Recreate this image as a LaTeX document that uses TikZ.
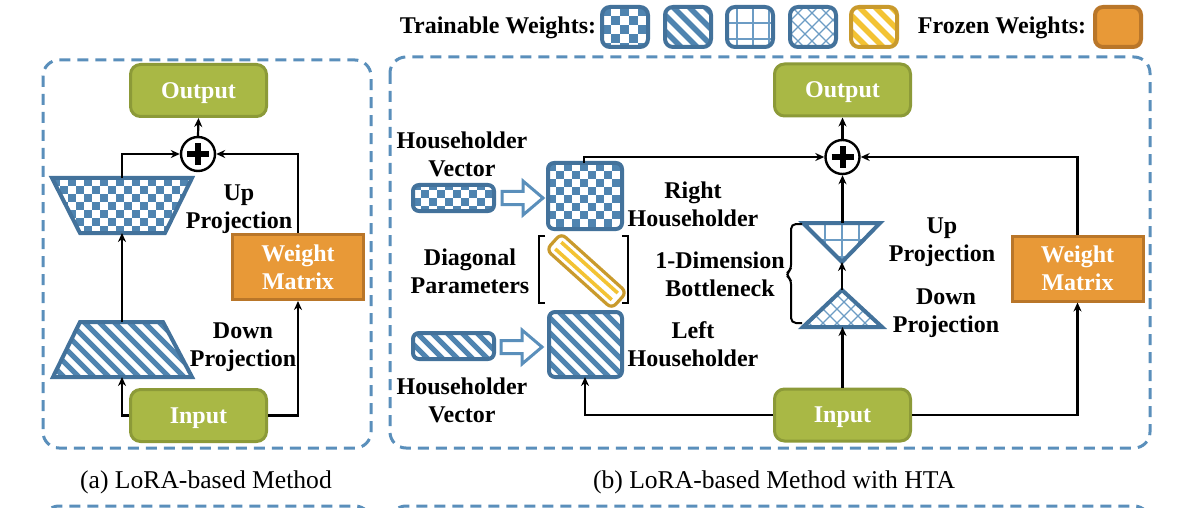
\documentclass[tikz,border=0pt]{standalone}
\usepackage{fontspec}
\setmainfont{Liberation Serif}
\usetikzlibrary{arrows.meta,calc}
\definecolor{pblue}{HTML}{4F84B0}
\definecolor{lblue}{HTML}{6C9CC4}
\definecolor{bblue}{HTML}{43729B}
\definecolor{dashblue}{HTML}{5A8FBB}
\definecolor{gfill}{HTML}{A9B845}
\definecolor{gdraw}{HTML}{8C9A38}
\definecolor{ofill}{HTML}{E89937}
\definecolor{odraw}{HTML}{B97629}
\definecolor{yfill}{HTML}{F3C333}
\definecolor{ydraw}{HTML}{C99A2C}
% checkerboard: xmin ymin xmax ymax cell
\newcommand\chk[5]{%
  \pgfmathtruncatemacro\chnx{ceil((#3-#1)/#5)}%
  \pgfmathtruncatemacro\chny{ceil((#4-#2)/#5)}%
  \foreach \ci in {0,...,\chnx}{\foreach \cj in {0,...,\chny}{%
    \pgfmathtruncatemacro\chp{mod(\ci+\cj,2)}%
    \ifnum\chp=0 \fill[pblue] ({#1+#5*\ci},{#2+#5*\cj}) rectangle ++(#5,#5);\fi}}}
% stripes: xmin ymin xmax ymax color period
\newcommand\strp[6]{%
  \pgfmathtruncatemacro\stn{ceil((#3-#1+#4-#2)/#6)+1}%
  \pgfmathsetmacro\stw{#6*0.17}%
  \foreach \sk in {0,...,\stn}{\draw[#5, line width=\stw pt] ({#1-(#4-#2)+#6*\sk},#2) -- ++({#4-#2},{#4-#2});}}
% grid: xmin ymin xmax ymax spacing
\newcommand\grd[5]{%
  \pgfmathtruncatemacro\gnx{ceil((#3-#1)/#5)}%
  \pgfmathtruncatemacro\gny{ceil((#4-#2)/#5)}%
  \foreach \gk in {1,...,\gnx}{\draw[lblue, line width=0.8pt] ({#1+#5*\gk},#2) -- ({#1+#5*\gk},#4);}%
  \foreach \gk in {1,...,\gny}{\draw[lblue, line width=0.8pt] (#1,{#2+#5*\gk}) -- (#3,{#2+#5*\gk});}}
% cross hatch: xmin ymin xmax ymax spacing
\newcommand\xht[5]{%
  \pgfmathtruncatemacro\xn{ceil((#3-#1+#4-#2)/#5)+1}%
  \foreach \xk in {0,...,\xn}{%
    \draw[lblue, line width=0.6pt] ({#1-(#4-#2)+#5*\xk},#2) -- ++({#4-#2},{#4-#2});
    \draw[lblue, line width=0.6pt] ({#1+#5*\xk},#2) -- ++({-(#4-#2)},{#4-#2});}}
% hollow arrow: x0 yc
\newcommand\harrow[2]{%
  \draw[draw=dashblue, line width=1.5pt, fill=white, line join=miter]
    (#1,#2-6.5) -- (#1+21,#2-6.5) -- (#1+21,#2-17) -- (#1+41,#2) -- (#1+21,#2+17)
    -- (#1+21,#2+6.5) -- (#1,#2+6.5) -- cycle;}
\tikzset{
  dbox/.style={draw=dashblue, line width=1.5pt, dash pattern=on 5.5pt off 3.5pt, rounded corners=8pt},
  gbox/.style={draw=gdraw, fill=gfill, line width=1.5pt, rounded corners=5pt, text=white,
    font=\bfseries\fontsize{12}{14}\selectfont, minimum width=68pt, minimum height=26pt, inner sep=0pt,
    text depth=0pt},
  obox/.style={draw=odraw, fill=ofill, line width=1.5pt, text=white, align=center,
    font=\bfseries\fontsize{12}{14}\selectfont, minimum width=65.5pt, minimum height=32.5pt, inner sep=0pt},
  lbl/.style={font=\bfseries\fontsize{12}{14}\selectfont, align=center, inner sep=0pt},
  captxt/.style={font=\fontsize{12.8}{14}\selectfont, inner sep=0pt},
  plus/.style={circle, draw=black, line width=1.2pt, minimum size=17pt, inner sep=0pt, fill=white},
  arr/.style={-{Stealth[length=4.5pt,width=4pt]}, line width=1.1pt, black},
  pborder/.style={draw=bblue, line width=2pt},
}
\begin{document}
\begin{tikzpicture}[x=0.5pt,y=-0.5pt]
\useasboundingbox (0,0) rectangle (1200,508);
\clip (0,0) rectangle (1200,508);

% ---------- dashed frames ----------
\draw[dbox] (43,60) rectangle (371,448);
\draw[dbox] (390,57) rectangle (1150,448);
\draw[dbox] (43,506) rectangle (371,620);
\draw[dbox] (390,506) rectangle (1150,620);

% ---------- legend ----------
\node[lbl] (trainlbl) at (498,28) {Trainable Weights:};
\node[lbl] (frozenlbl) at (1002,28) {Frozen Weights:};
\begin{scope}
  \clip[rounded corners=4pt] (602,7) rectangle (648,47);
  \chk{602}{7}{648}{47}{9}
\end{scope}
\draw[pborder, rounded corners=4pt] (602,7) rectangle (648,47);
\begin{scope}
  \clip[rounded corners=4pt] (665,7) rectangle (711,47);
  \strp{665}{7}{711}{47}{pblue}{16}
\end{scope}
\draw[pborder, rounded corners=4pt] (665,7) rectangle (711,47);
\begin{scope}
  \clip[rounded corners=4pt] (727,7) rectangle (773,47);
  \grd{721}{7}{773}{47}{16}
\end{scope}
\draw[pborder, rounded corners=4pt] (727,7) rectangle (773,47);
\begin{scope}
  \clip[rounded corners=4pt] (790,7) rectangle (836,47);
  \xht{790}{7}{836}{47}{14}
\end{scope}
\draw[pborder, rounded corners=4pt] (790,7) rectangle (836,47);
\begin{scope}
  \clip[rounded corners=4pt] (851,7) rectangle (897,47);
  \strp{851}{7}{897}{47}{yfill}{16}
\end{scope}
\draw[draw=ydraw, line width=2pt, rounded corners=4pt] (851,7) rectangle (897,47);
\draw[draw=odraw, fill=ofill, line width=2pt, rounded corners=4pt] (1095,7) rectangle (1141,47);

% ================= LEFT PANEL =================
\node[gbox] (outL) at (198.5,90.5) {Output};
\node[gbox] (inL) at (198.5,415.5) {Input};
\node[plus] (plL) at (198,154) {};
\draw[line width=3pt] ([xshift=-5.5pt]plL.center) -- ([xshift=5.5pt]plL.center);
\draw[line width=3pt] ([yshift=-5.5pt]plL.center) -- ([yshift=5.5pt]plL.center);
\node[obox] (wL) at (298,267) {Weight\\Matrix};

% up projection (checker trapezoid)
\begin{scope}
  \clip (52,178) -- (192,178) -- (165,233) -- (80,233) -- cycle;
  \chk{52}{178}{196}{234}{8}
\end{scope}
\draw[pborder] (52,178) -- (192,178) -- (165,233) -- (80,233) -- cycle;
\coordinate (upLtop) at (122,178);
\coordinate (upLbot) at (122,233);
% down projection (striped trapezoid)
\begin{scope}
  \clip (80,322) -- (163,322) -- (192,377) -- (53,377) -- cycle;
  \strp{50}{322}{195}{378}{pblue}{15}
\end{scope}
\draw[pborder] (80,322) -- (163,322) -- (192,377) -- (53,377) -- cycle;
\coordinate (dnLtop) at (122,322);
\coordinate (dnLbot) at (122,377);

\node[lbl] (upLlbl) at (239,209) {Up\\Projection};
\node[lbl] (dnLlbl) at (243,347) {Down\\Projection};

\draw[arr] (plL.north) -- (outL.south);
\draw[arr] (upLtop) |- (plL.west);
\draw[arr] (dnLtop) -- (upLbot);
\draw[arr] (inL.west) -| (dnLbot);
\draw[arr] (inL.east) -| (wL.south);
\draw[arr] (wL.north) |- (plL.east);

% ================= RIGHT PANEL =================
\node[gbox] (outR) at (842.5,90) {Output};
\node[gbox] (inR) at (842.5,415) {Input};
\node[plus] (plR) at (842.5,157) {};
\draw[line width=3pt] ([xshift=-5.5pt]plR.center) -- ([xshift=5.5pt]plR.center);
\draw[line width=3pt] ([yshift=-5.5pt]plR.center) -- ([yshift=5.5pt]plR.center);
\node[obox] (wR) at (1077.5,268.5) {Weight\\Matrix};

% householder vectors
\begin{scope}
  \clip[rounded corners=3pt] (413,185) rectangle (494,211);
  \chk{413}{182}{494}{211}{8}
\end{scope}
\draw[pborder, rounded corners=3pt] (413,185) rectangle (494,211);
\begin{scope}
  \clip[rounded corners=3pt] (413,333) rectangle (494,359);
  \strp{413}{333}{494}{359}{pblue}{15}
\end{scope}
\draw[pborder, rounded corners=3pt] (413,333) rectangle (494,359);
\harrow{502}{198}
\harrow{501}{347}

% right householder (checker square)
\begin{scope}
  \clip[rounded corners=3pt] (548,163) rectangle (622,229);
  \chk{548}{163}{622}{229}{8}
\end{scope}
\draw[pborder, rounded corners=3pt] (548,163) rectangle (622,229);
\coordinate (RHtop) at (584,163);
% left householder (striped square)
\begin{scope}
  \clip[rounded corners=3pt] (549,312) rectangle (622,377);
  \strp{549}{312}{622}{377}{pblue}{15}
\end{scope}
\draw[pborder, rounded corners=3pt] (549,312) rectangle (622,377);
\coordinate (LHbot) at (585,377);

% diagonal parameters
\draw[line width=1pt] (545,236) -- (539,236) -- (539,303) -- (545,303);
\draw[line width=1pt] (622,236) -- (628,236) -- (628,303) -- (622,303);
\begin{scope}[shift={(586.5,271)}, rotate=-42]
  \draw[fill=white, draw=ydraw, line width=1.6pt, rounded corners=3pt] (-44,-11) rectangle (44,11);
  \draw[yfill, line width=1.8pt] (-38,-4.5) -- (38,-4.5);
  \draw[yfill, line width=1.8pt] (-38,4.5) -- (38,4.5);
\end{scope}

% up projection (grid triangle)
\begin{scope}
  \clip (803,223) -- (880,223) -- (842,262) -- cycle;
  \grd{791}{223}{880}{262}{17}
\end{scope}
\draw[pborder, line join=miter] (803,223) -- (880,223) -- (842,262) -- cycle;
\coordinate (upTtop) at (842.5,223);
\coordinate (upTapex) at (842,262);
% down projection (cross-hatch triangle)
\begin{scope}
  \clip (842,290) -- (882,327) -- (803,327) -- cycle;
  \xht{800}{290}{885}{328}{14}
\end{scope}
\draw[pborder, line join=miter] (842,290) -- (882,327) -- (803,327) -- cycle;
\coordinate (dnTapex) at (842,290);
\coordinate (dnTbase) at (842.5,327);

% brace
\draw[line width=1pt, rounded corners=2.5pt] (802,224) -- (791,224) -- (791,270) -- (785,274.5) -- (791,279) -- (791,323) -- (802,323);

% labels
\node[lbl] (hv1) at (462,154.5) {Householder\\Vector};
\node[lbl] (hv2) at (462,400.5) {Householder\\Vector};
\node[lbl] (rhl) at (693,204.5) {Right\\Householder};
\node[lbl] (lhl) at (693,344.5) {Left\\Householder};
\node[lbl] (dpl) at (470,271.5) {Diagonal\\Parameters};
\node[lbl] (bnl) at (720,274.5) {1-Dimension\\Bottleneck};
\node[lbl] (upRlbl) at (942,242.5) {Up\\Projection};
\node[lbl] (dnRlbl) at (946,313.5) {Down\\Projection};

% connectors
\draw[arr] (plR.north) -- (outR.south);
\draw[arr] (RHtop) |- (plR.west);
\draw[arr] (upTtop) -- (plR.south);
\draw[arr] (dnTapex) -- (upTapex);
\draw[arr] (inR.north) -- (dnTbase);
\draw[arr] (inR.west) -| (LHbot);
\draw[arr] (inR.east) -| (wR.south);
\draw[arr] (wR.north) |- (plR.east);

% captions
\node[captxt] (capa) at (206,482) {(a) LoRA-based Method};
\node[captxt] (capb) at (774,482) {(b) LoRA-based Method with HTA};
\end{tikzpicture}
\end{document}
